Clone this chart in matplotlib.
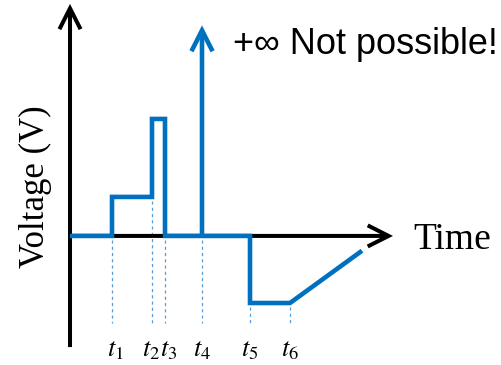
import matplotlib
matplotlib.use("Agg")
import matplotlib.pyplot as plt

# Event times (arbitrary time units) and labels
t_names = ["$t_1$", "$t_2$", "$t_3$", "$t_4$", "$t_5$", "$t_6$"]
t_vals = [4.2, 8.2, 9.5, 13.2, 18.0, 22.0]
t_end = 29.2

# Voltage levels (arbitrary units)
v_step1 = 1.0
v_step2 = 3.0
v_neg = -1.72
v_end = -0.38
v_spike = 5.4          # drawn as an arrow to +infinity

# signal path
sig_t = [0, t_vals[0], t_vals[0], t_vals[1], t_vals[1], t_vals[2], t_vals[2],
         t_vals[4], t_vals[4], t_vals[5], t_end]
sig_v = [0, 0, v_step1, v_step1, v_step2, v_step2, 0,
         0, v_neg, v_neg, v_end]
# where the dashed guide lines start (signal value below each event)
guide_top = [0, v_step1, 0, 0, v_neg, v_neg]
guide_bottom = -2.23
# small label nudges so t2/t3 do not collide
label_nudge = [0.3, -0.1, 0.35, 0.0, 0.0, 0.0]

blue = "#0070C0"
guide_blue = "#5B9BD5"

fig = plt.figure(figsize=(5.01, 3.65), dpi=100)
ax = fig.add_axes([0, 0, 1, 1])
ax.set_xlim(-7.0, 43.1)
ax.set_ylim(-3.31, 6.05)
ax.axis("off")

# axes arrows
ap = dict(arrowstyle="->,head_length=0.75,head_width=0.38", lw=2.9,
          color="black", shrinkA=0, shrinkB=0, mutation_scale=20,
          joinstyle="miter", capstyle="butt")
ax.annotate("", xy=(0, 5.95), xytext=(0, -2.85), arrowprops=ap)
ax.annotate("", xy=(32.3, 0), xytext=(0, 0), arrowprops=ap)

# guide lines
for tv, top in zip(t_vals, guide_top):
    ax.plot([tv, tv], [top - 0.1, guide_bottom], color=guide_blue, lw=0.9,
            ls=(0, (2.5, 2.5)), zorder=1)

# signal
ax.plot(sig_t, sig_v, color=blue, lw=3.3, solid_joinstyle="miter",
        solid_capstyle="butt", zorder=3)
apb = dict(ap)
apb["color"] = blue
apb["lw"] = 3.3
ax.annotate("", xy=(t_vals[3], v_spike), xytext=(t_vals[3], 0), arrowprops=apb,
            zorder=3)

# labels
for tv, name, dn in zip(t_vals, t_names, label_nudge):
    ax.text(tv + dn, -2.92, name, ha="center", va="center", fontsize=19,
            math_fontfamily="stix")

ax.text(-3.5, 1.26, "Voltage (V)", rotation=90, ha="center", va="center",
        fontsize=25, family="Liberation Serif")
ax.text(34.3, -0.1, "Time", ha="left", va="center", fontsize=27,
        family="Liberation Serif")
ax.text(16.3, 4.92, "+\u221e Not possible!", ha="left", va="center",
        fontsize=26, family="Liberation Sans")

fig.savefig("out.png", dpi=100)
